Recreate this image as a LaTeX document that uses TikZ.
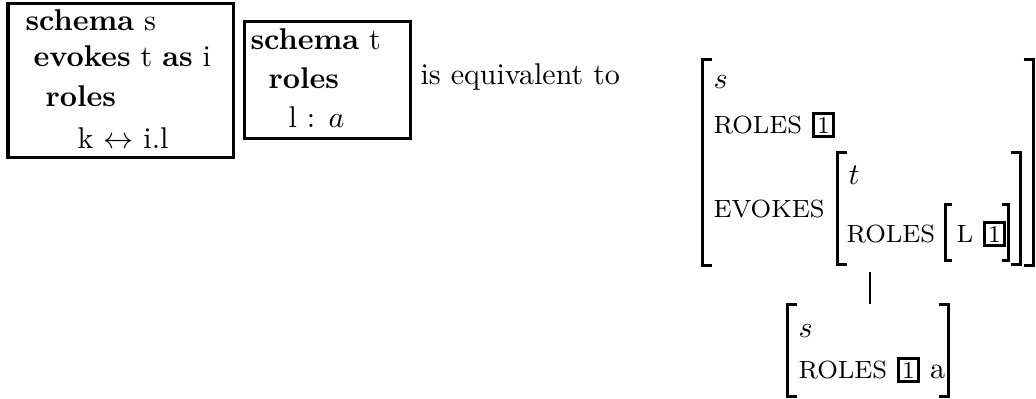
\documentclass[tikz,border=0pt]{standalone}
\usetikzlibrary{fit}
\newcommand\bone{{\setlength\fboxsep{0.8pt}\setlength\fboxrule{0.9pt}\fbox{\footnotesize 1}}}
\newcommand\cp[1]{{\fontsize{8.3}{10}\selectfont #1}}
\newcommand\avmbr[2]{%
  \draw[brk] ([shift={(#2,0)}]#1.north west) -| (#1.south west) -- ++(#2,0);
  \draw[brk] ([shift={(-#2,0)}]#1.north east) -| (#1.south east) -- ++(-#2,0);}
\begin{document}
\begin{tikzpicture}[x=0.3333pt,y=-0.3333pt,
  txt/.style={anchor=base west, inner sep=0pt, font=\fontsize{10}{12}\selectfont},
  frame/.style={draw, line width=1pt, inner sep=0pt},
  region/.style={inner sep=0pt},
  brk/.style={line width=0.9pt},
  link/.style={line width=0.9pt}]
\useasboundingbox (0,0) rectangle (1036,398);
% schema s box
\node[frame, fit={(8,3) (233,157)}] (b1) {};
\node[txt] (b1l1) at (25,30) {\textbf{schema} s};
\node[txt] (b1l2) at (33,66) {\textbf{evokes} t \textbf{as} i};
\node[txt] (b1l3) at (45,106) {\textbf{roles}};
\node[txt] (b1l4) at (77,148) {k $\leftrightarrow$ i.l};
% schema t box
\node[frame, fit={(244,21) (410,138)}] (b2) {};
\node[txt] (b2l1) at (250,49) {\textbf{schema} t};
\node[txt] (b2l2) at (268,88) {\textbf{roles}};
\node[txt] (b2l3) at (288,127) {l : $a$};
% text
\node[txt] (eq) at (420,84) {is equivalent to};
% outer AVM
\node[region, fit={(703,60) (1033,265)}] (outer) {};
\avmbr{outer}{10}
\node[txt] (os) at (713,88) {$s$};
\node[txt] (oroles) at (713,133) {\cp{ROLES} \bone};
\node[txt] (oevokes) at (713,217) {\cp{EVOKES}};
% t AVM
\node[region, fit={(838,153) (1020,264)}] (tavm) {};
\avmbr{tavm}{10}
\node[txt] (tt) at (848,184) {$t$};
\node[txt] (troles) at (846,242) {\cp{ROLES}};
% L AVM
\node[region, fit={(946,205) (1008,260)}] (lavm) {};
\avmbr{lavm}{7}
\node[txt] (ll) at (956,242) {\cp{L} \bone};
% lower AVM
\node[region, fit={(788,305) (948,396)}] (low) {};
\avmbr{low}{10}
\node[txt] (lows) at (798,337) {$s$};
\node[txt] (lowroles) at (798,378) {\cp{ROLES} \bone{} a};
% connector
\coordinate (ctop) at (870,272);
\draw[link] (ctop) -- (ctop |- low.north);
\end{tikzpicture}
\end{document}
